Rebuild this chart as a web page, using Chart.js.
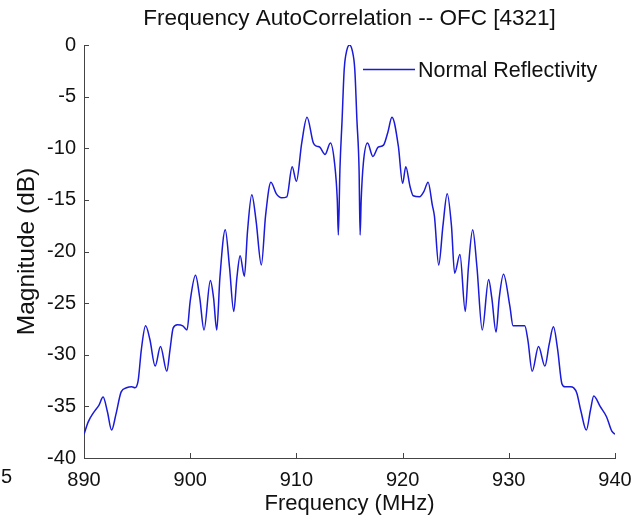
<!DOCTYPE html>
<html>
<head>
<meta charset="utf-8">
<script src="https://cdn.jsdelivr.net/npm/chart.js@4/dist/chart.umd.min.js"></script>
<style>
  body { margin: 0; background: #fff; }
  #wrap { width: 643px; height: 519px; }
</style>
</head>
<body>
<div id="wrap"><canvas id="acf" width="643" height="519"></canvas></div>
<script>
// DATA
const freqMHz = [
  890.0, 890.4, 890.9, 891.4, 891.8, 892.2, 892.6, 893.0, 893.5, 894.0,
  894.5, 894.8, 895.1, 895.4, 895.8, 896.2, 896.7, 897.2, 897.8, 898.1,
  898.4, 898.8, 899.3, 899.7, 900.0, 900.5, 900.9, 901.3, 901.9, 902.2,
  902.5, 902.8, 903.3, 903.7, 904.1, 904.4, 904.7, 905.1, 905.4, 905.8,
  906.2, 906.7, 907.1, 907.6, 908.1, 908.6, 909.1, 909.6, 910.0, 910.5,
  911.0, 911.6, 911.9, 912.2, 912.7, 913.2, 913.6, 913.85, 913.95, 914.1,
  914.3, 914.5, 914.75, 915.0, 915.25, 915.5, 915.7, 915.9, 916.0, 916.1,
  916.3, 916.7, 917.2, 917.7, 918.2, 918.6, 919.0, 919.6, 920.0, 920.3,
  920.7, 921.0, 921.6, 922.0, 922.4, 922.8, 923.0, 923.4, 923.8, 924.2,
  924.6, 924.9, 925.4, 925.9, 926.2, 926.6, 927.0, 927.5, 928.1, 928.4,
  928.8, 929.1, 929.5, 930.1, 930.4, 930.8, 931.5, 931.8, 932.2, 932.8,
  933.4, 933.8, 934.2, 934.6, 935.0, 935.3, 935.8, 936.1, 936.4, 936.8,
  937.3, 937.7, 938.0, 938.6, 939.2, 939.7, 940.0
];
const magDb = [
  -37.7, -36.5, -35.6, -34.9, -34.1, -35.5, -37.3, -35.8, -33.6, -33.2,
  -33.1, -33.2, -32.5, -29.5, -27.2, -28.5, -31.1, -29.2, -31.6, -29.5,
  -27.4, -27.1, -27.2, -27.6, -24.8, -22.3, -24.5, -27.6, -22.8, -24.5,
  -27.6, -22.5, -17.9, -21.5, -25.8, -22.5, -20.4, -22.4, -18.0, -14.5,
  -17.0, -21.3, -16.5, -13.3, -14.4, -14.8, -14.7, -11.8, -13.2, -9.5,
  -7.0, -9.5, -9.8, -9.9, -10.6, -9.5, -11.5, -15.0, -18.4, -12.0,
  -7.3, -2.4, -0.5, 0.0, -0.5, -2.4, -7.3, -12.0, -18.4, -15.0,
  -11.5, -9.5, -10.8, -9.9, -9.7, -8.5, -7.0, -9.8, -13.4, -11.8,
  -13.7, -14.6, -14.7, -14.2, -13.3, -15.5, -16.6, -21.3, -17.5, -14.4,
  -17.5, -22.1, -20.3, -25.8, -21.5, -17.9, -21.5, -27.6, -22.7, -24.5,
  -27.8, -24.5, -22.2, -25.3, -27.2, -27.2, -27.2, -28.6, -31.6, -29.2,
  -31.1, -29.0, -27.3, -29.5, -32.8, -33.1, -33.1, -33.2, -33.7, -35.5,
  -37.3, -35.3, -34.0, -35.0, -36.0, -37.4, -37.7
];
const xTicks = [890, 900, 910, 920, 930, 940];
const yTicks = [0, -5, -10, -15, -20, -25, -30, -35, -40];
const seriesName = "Normal Reflectivity";
const chartTitle = "Frequency AutoCorrelation -- OFC [4321]";

const FONT = "'Liberation Sans', Arial, sans-serif";
const LINE_BLUE = "#1a1ad8";
const AXIS_GRAY = "#444";

Chart.defaults.font.family = FONT;
Chart.defaults.color = "#111";

// matlab style ticks point into the plot, plus the legend in the corner
const matlabBits = {
    id: "matlabBits",
    afterDraw(chart) {
        const ctx = chart.ctx;
        const area = chart.chartArea;
        const xs = chart.scales.x, ys = chart.scales.y;
        ctx.save();
        ctx.strokeStyle = AXIS_GRAY;
        ctx.lineWidth = 1;
        ctx.beginPath();
        xTicks.forEach(v => {
            const px = Math.round(xs.getPixelForValue(v)) + 0.5;
            ctx.moveTo(px, area.bottom);
            ctx.lineTo(px, area.bottom - 5);
        });
        yTicks.forEach(v => {
            const py = Math.round(ys.getPixelForValue(v)) + 0.5;
            ctx.moveTo(area.left, py);
            ctx.lineTo(area.left + 5, py);
        });
        ctx.stroke();

        // legend
        ctx.strokeStyle = LINE_BLUE;
        ctx.lineWidth = 1.5;
        ctx.beginPath();
        ctx.moveTo(363, 69.5);
        ctx.lineTo(415, 69.5);
        ctx.stroke();
        ctx.fillStyle = "#111";
        ctx.font = "21.5px " + FONT;
        ctx.textBaseline = "middle";
        ctx.textAlign = "left";
        ctx.fillText(seriesName, 418, 71);

        // leftover label from the neighbouring figure
        ctx.font = "20px " + FONT;
        ctx.textAlign = "right";
        ctx.fillText("5", 12, 477);
        ctx.restore();
    }
};

new Chart(document.getElementById("acf"), {
    type: "line",
    data: {
        datasets: [{
            label: seriesName,
            data: freqMHz.map((f, i) => ({ x: f, y: magDb[i] })),
            borderColor: LINE_BLUE,
            borderWidth: 1.5,
            pointRadius: 0,
            cubicInterpolationMode: "monotone",
            fill: false
        }]
    },
    options: {
        responsive: false,
        animation: false,
        devicePixelRatio: 1,
        layout: { padding: { left: 0, right: 28, top: 0, bottom: 0 } },
        plugins: {
            legend: { display: false },
            tooltip: { enabled: false },
            title: {
                display: true,
                text: chartTitle,
                fullSize: false,
                font: { size: 22.5, weight: "normal" },
                color: "#111",
                padding: { top: 5, bottom: 13 }
            }
        },
        scales: {
            x: {
                type: "linear",
                min: 890, max: 940,
                afterBuildTicks: s => { s.ticks = xTicks.map(v => ({ value: v })); },
                afterFit: s => { s.height = 61; },
                grid: { display: true, drawOnChartArea: false, drawTicks: false },
                border: { display: true, color: AXIS_GRAY, width: 1 },
                ticks: { font: { size: 20 }, padding: 10, maxRotation: 0, color: "#111" },
                title: { display: true, text: "Frequency (MHz)", font: { size: 22 }, padding: { top: 0, bottom: 2 }, color: "#111" }
            },
            y: {
                type: "linear",
                min: -40, max: 0,
                afterBuildTicks: s => { s.ticks = yTicks.map(v => ({ value: v })); },
                afterFit: s => { s.width = 84; },
                grid: { display: true, drawOnChartArea: false, drawTicks: false },
                border: { display: true, color: AXIS_GRAY, width: 1 },
                ticks: { font: { size: 20 }, padding: 8, color: "#111" },
                title: { display: true, text: "Magnitude (dB)", font: { size: 24.5 }, padding: { top: 13, bottom: 0 }, color: "#111" }
            }
        }
    },
    plugins: [matlabBits]
});
</script>
</body>
</html>
